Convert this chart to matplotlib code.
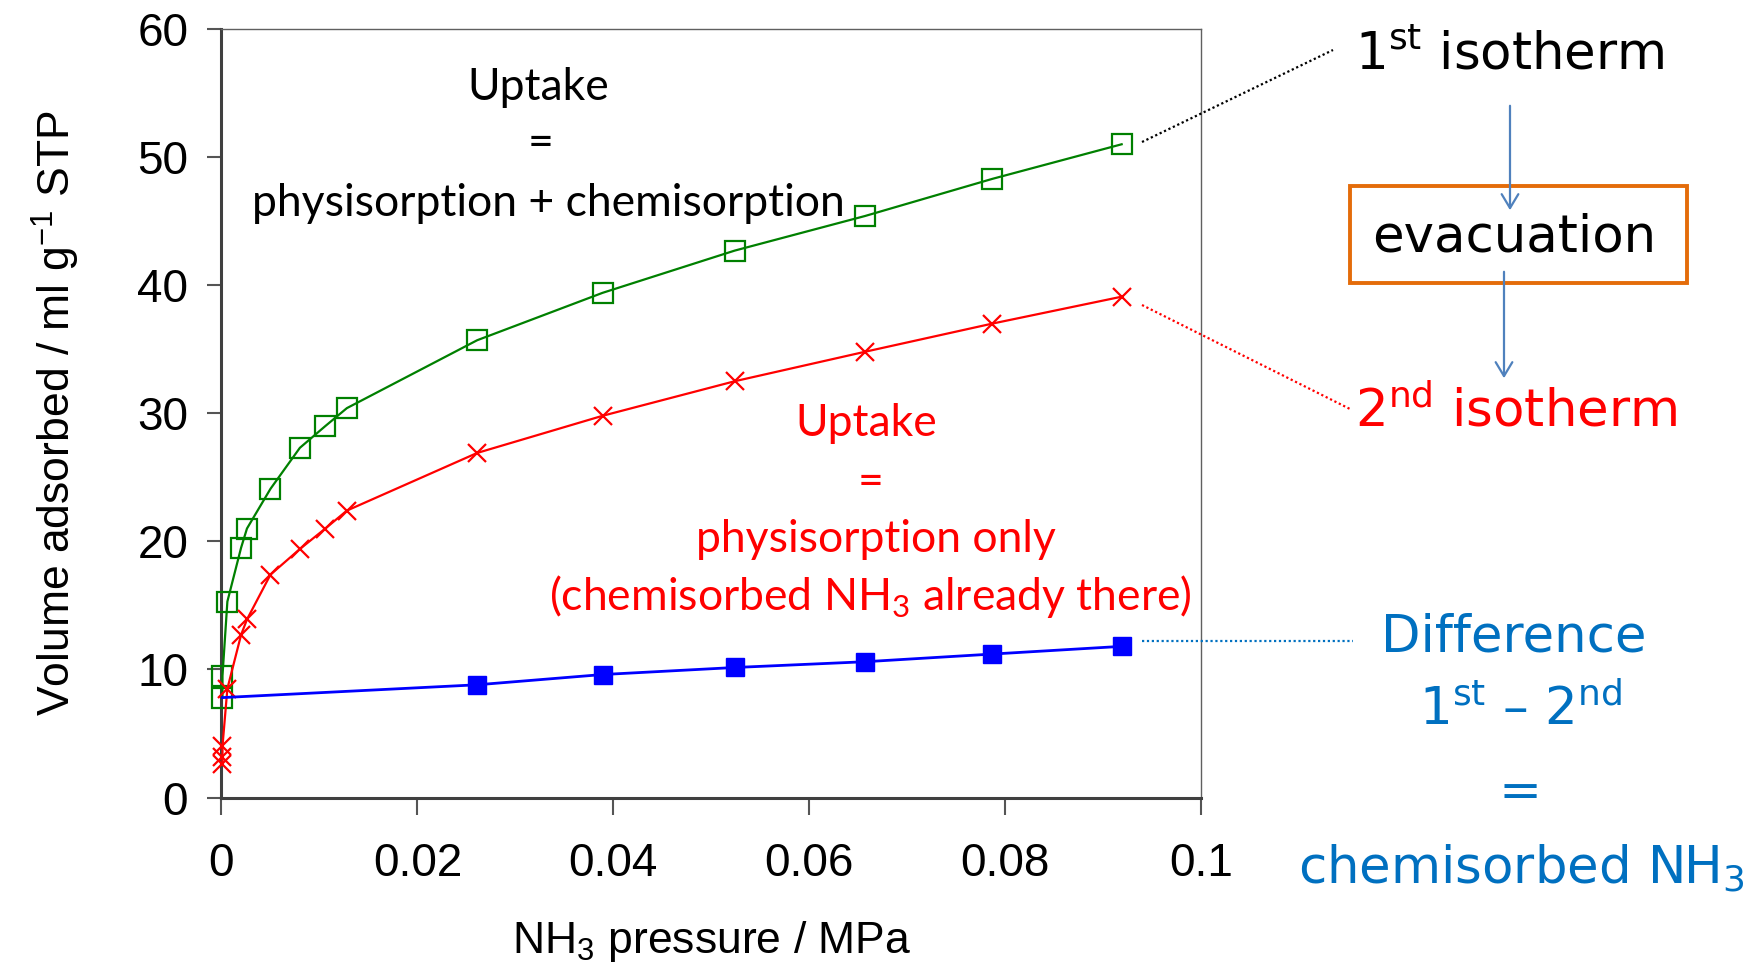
import matplotlib
matplotlib.use("Agg")
import matplotlib.pyplot as plt
from matplotlib.patches import Rectangle, FancyArrowPatch
from matplotlib.lines import Line2D

# dados
p_primeira = [0.0001, 0.0001, 0.0006, 0.0020, 0.0026, 0.0050, 0.0080, 0.0106, 0.0128,
              0.0261, 0.0389, 0.0524, 0.0657, 0.0787, 0.0919]
v_primeira = [7.8, 9.5, 15.3, 19.5, 21.0, 24.1, 27.3, 29.0, 30.4,
              35.7, 39.4, 42.7, 45.4, 48.3, 51.0]

p_segunda = [0.0001, 0.0001, 0.0001, 0.0006, 0.0020, 0.0026, 0.0050, 0.0080, 0.0106, 0.0128,
             0.0261, 0.0389, 0.0524, 0.0657, 0.0787, 0.0919]
v_segunda = [2.6, 3.2, 4.0, 8.5, 12.7, 13.9, 17.4, 19.4, 21.0, 22.4,
             26.9, 29.8, 32.5, 34.8, 37.0, 39.1]

p_diferenca = [0.0001, 0.0261, 0.0389, 0.0524, 0.0657, 0.0787, 0.0919]
v_diferenca = [7.8, 8.8, 9.6, 10.15, 10.6, 11.2, 11.8]

x_ticks = [0, 0.02, 0.04, 0.06, 0.08, 0.1]
x_labels = ["0", "0.02", "0.04", "0.06", "0.08", "0.1"]
y_ticks = [0, 10, 20, 30, 40, 50, 60]

W, H = 1756, 963


def fx(px):
    return px / W


def fy(py):
    return 1 - py / H


fig = plt.figure(figsize=(W / 100, H / 100), dpi=100)
ax = fig.add_axes([fx(221.5), fy(797.5), fx(1201) - fx(221.5), fy(29) - fy(797.5)])

ax.plot(p_primeira, v_primeira, color="#008000", lw=1.6, marker="s", ms=14,
        mfc="none", mec="#008000", mew=1.6, clip_on=False, zorder=3)
ax.plot(p_segunda, v_segunda, color="#ff0000", lw=1.6, marker="x", ms=13, mew=1.6,
        clip_on=False, zorder=3)
ax.plot(p_diferenca, v_diferenca, color="#0000ff", lw=2, marker="s", ms=13,
        markevery=list(range(1, len(p_diferenca))), clip_on=False, zorder=3)

ax.set_xlim(0, 0.1)
ax.set_ylim(0, 60)
ax.set_xticks(x_ticks)
ax.set_xticklabels(x_labels)
ax.set_yticks(y_ticks)
fonte_eixo = "Liberation Sans"
for lab in ax.get_xticklabels() + ax.get_yticklabels():
    lab.set_fontfamily(fonte_eixo)
    lab.set_fontsize(33)
ax.tick_params(axis="x", direction="out", length=12, width=1.5, color="#555555", pad=20)
ax.tick_params(axis="y", direction="out", length=10, width=1.5, color="#555555", pad=14)
for lado in ["left", "bottom"]:
    ax.spines[lado].set_color("#404040")
    ax.spines[lado].set_linewidth(2.2)
for lado in ["top", "right"]:
    ax.spines[lado].set_color("#606060")
    ax.spines[lado].set_linewidth(1)

ax.set_ylabel(r"Volume adsorbed / ml g$^{\mathregular{-1}}$ STP", fontsize=32,
              fontfamily=fonte_eixo, labelpad=40)
ax.set_xlabel(r"NH$_{\mathregular{3}}$ pressure / MPa", fontsize=32,
              fontfamily=fonte_eixo, labelpad=24)

# textos dentro do gráfico
fa = "Lato"
ft = 32
fig.text(fx(538), fy(87), "Uptake", fontsize=ft, fontfamily=fa, ha="center", va="center")
fig.text(fx(541), fy(143), "=", fontsize=ft, fontfamily=fa, ha="center", va="center")
fig.text(fx(548), fy(203), "physisorption + chemisorption", fontsize=ft, fontfamily=fa,
         ha="center", va="center")

vermelho = "#ff0000"
fig.text(fx(866), fy(423), "Uptake", fontsize=ft, fontfamily=fa, ha="center", va="center", color=vermelho)
fig.text(fx(871), fy(482), "=", fontsize=ft, fontfamily=fa, ha="center", va="center", color=vermelho)
fig.text(fx(876), fy(540), "physisorption only", fontsize=ft, fontfamily=fa,
         ha="center", va="center", color=vermelho)
fig.text(fx(870), fy(596), r"(chemisorbed NH$_{\mathregular{3}}$ already there)", fontsize=ft,
         fontfamily=fa, ha="center", va="center", color=vermelho)

# textos do lado direito
fd = "DejaVu Sans"
azul = "#0070c0"
fig.text(fx(1355), fy(56), r"1$^{\mathregular{st}}$ isotherm", fontsize=37, fontfamily=fd,
         ha="left", va="center", color="black")
fig.text(fx(1355), fy(412), r"2$^{\mathregular{nd}}$ isotherm", fontsize=37, fontfamily=fd,
         ha="left", va="center", color=vermelho)
fig.text(fx(1514), fy(237), "evacuation", fontsize=37, fontfamily=fd,
         ha="center", va="center", color="black")
fig.text(fx(1514), fy(638), "Difference", fontsize=37, fontfamily=fd,
         ha="center", va="center", color=azul)
fig.text(fx(1521), fy(711), r"1$^{\mathregular{st}}$ – 2$^{\mathregular{nd}}$", fontsize=37,
         fontfamily=fd, ha="center", va="center", color=azul)
fig.text(fx(1520), fy(793), "=", fontsize=37, fontfamily=fd, ha="center", va="center", color=azul)
fig.text(fx(1521), fy(868), r"chemisorbed NH$_{\mathregular{3}}$", fontsize=37, fontfamily=fd,
         ha="center", va="center", color=azul)

# caixa laranja
fig.patches.append(Rectangle((fx(1350), fy(283)), fx(1687) - fx(1350), fy(186) - fy(283),
                             transform=fig.transFigure, fill=False, ec="#e46c0a", lw=2.8))

# setas
cor_seta = "#4f81bd"
for x0, y0, y1 in [(1510, 103, 213), (1504, 269, 381)]:
    fig.patches.append(FancyArrowPatch((fx(x0), fy(y0)), (fx(x0), fy(y1)),
                                       transform=fig.transFigure, arrowstyle="->,head_length=10,head_width=6",
                                       color=cor_seta, lw=1.6, mutation_scale=1))

# linhas pontilhadas de ligação
for (xa, ya), (xb, yb), cor in [((1142, 142), (1333, 50), "black"),
                                ((1142, 305), (1350, 409), vermelho),
                                ((1142, 641), (1353, 641), azul)]:
    fig.lines.append(Line2D([fx(xa), fx(xb)], [fy(ya), fy(yb)], transform=fig.transFigure,
                            color=cor, lw=1.6, ls=(0, (1, 1.2))))

fig.savefig("out.png", dpi=100)
